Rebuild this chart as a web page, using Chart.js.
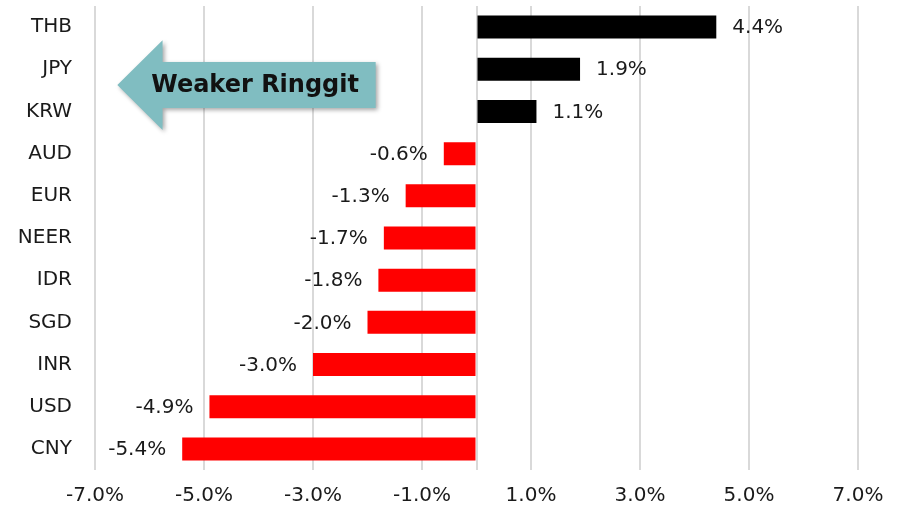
<!DOCTYPE html>
<html>
<head>
<meta charset="utf-8">
<script src="https://cdn.jsdelivr.net/npm/chart.js@4/dist/chart.umd.min.js"></script>
<style>
    html, body { margin: 0; padding: 0; background: #ffffff; }
    #wrap { width: 897px; height: 512px; }
</style>
</head>
<body>
<div id="wrap"><canvas id="fxChart" width="897" height="512"></canvas></div>
<script>
const currencies = ["THB", "JPY", "KRW", "AUD", "EUR", "NEER", "IDR", "SGD", "INR", "USD", "CNY"];
const changes = [4.4, 1.9, 1.1, -0.6, -1.3, -1.7, -1.8, -2.0, -3.0, -4.9, -5.4];
const xTicks = [-7, -5, -3, -1, 0, 1, 3, 5, 7];
const arrowText = "Weaker Ringgit";

const FONT = "'DejaVu Sans', sans-serif";

const barLabels = {
    id: "barLabels",
    afterDatasetsDraw(chart) {
        const ctx = chart.ctx;
        const meta = chart.getDatasetMeta(0);
        ctx.save();
        ctx.font = "20px " + FONT;
        ctx.fillStyle = "#1a1a1a";
        ctx.textBaseline = "middle";
        meta.data.forEach((bar, i) => {
            const v = changes[i];
            const text = v.toFixed(1) + "%";
            if (v >= 0) {
                ctx.textAlign = "left";
                ctx.fillText(text, bar.x + 16, bar.y + 1);
            } else {
                ctx.textAlign = "right";
                ctx.fillText(text, bar.x - 16, bar.y + 1);
            }
        });
        ctx.restore();
    }
};

// teal arrow pointing left, placed in data coordinates
const weakerArrow = {
    id: "weakerArrow",
    afterDraw(chart) {
        const xs = chart.scales.x;
        const ys = chart.scales.y;
        const tip = xs.getPixelForValue(-6.59);
        const neck = xs.getPixelForValue(-5.76);
        const tail = xs.getPixelForValue(-1.85);
        const mid = ys.getPixelForValue(1.37);
        const bodyTop = ys.getPixelForValue(0.83);
        const bodyBot = ys.getPixelForValue(1.92);
        const headTop = ys.getPixelForValue(0.31);
        const headBot = ys.getPixelForValue(2.44);

        const ctx = chart.ctx;
        ctx.save();
        ctx.shadowColor = "rgba(0,0,0,0.35)";
        ctx.shadowBlur = 4;
        ctx.shadowOffsetX = 2;
        ctx.shadowOffsetY = 2;
        ctx.fillStyle = "#80bdc1";
        ctx.beginPath();
        ctx.moveTo(tip, mid);
        ctx.lineTo(neck, headTop);
        ctx.lineTo(neck, bodyTop);
        ctx.lineTo(tail, bodyTop);
        ctx.lineTo(tail, bodyBot);
        ctx.lineTo(neck, bodyBot);
        ctx.lineTo(neck, headBot);
        ctx.closePath();
        ctx.fill();
        ctx.restore();

        ctx.save();
        ctx.font = "bold 24px " + FONT;
        ctx.fillStyle = "#111111";
        ctx.textAlign = "center";
        ctx.textBaseline = "middle";
        ctx.fillText(arrowText, (neck + tail) / 2 - 14, mid + 1);
        ctx.restore();
    }
};

new Chart(document.getElementById("fxChart"), {
    type: "bar",
    data: {
        labels: currencies,
        datasets: [{
            data: changes,
            backgroundColor: changes.map(v => v >= 0 ? "#000000" : "#ff0000"),
            borderWidth: 0,
            categoryPercentage: 1,
            barPercentage: 0.545
        }]
    },
    options: {
        indexAxis: "y",
        responsive: false,
        animation: false,
        devicePixelRatio: 1,
        layout: { padding: { top: 6, right: 39, left: 0, bottom: 0 } },
        plugins: {
            legend: { display: false },
            tooltip: { enabled: false }
        },
        scales: {
            x: {
                min: -7,
                max: 7,
                afterBuildTicks(scale) {
                    scale.ticks = xTicks.map(v => ({ value: v }));
                },
                afterFit(scale) {
                    scale.height = 42;
                    scale.paddingTop = 0;
                    scale.paddingBottom = 0;
                    scale.paddingLeft = 0;
                    scale.paddingRight = 0;
                },
                grid: {
                    color: "#d9d9d9",
                    lineWidth: 2,
                    drawTicks: false
                },
                border: { display: false },
                ticks: {
                    autoSkip: false,
                    maxRotation: 0,
                    padding: 14,
                    color: "#1a1a1a",
                    font: { family: FONT, size: 20 },
                    callback: v => v === 0 ? "" : v.toFixed(1) + "%"
                }
            },
            y: {
                afterFit(scale) {
                    scale.width = 95;
                    scale.paddingTop = 0;
                    scale.paddingBottom = 0;
                },
                grid: { display: false, drawTicks: false },
                border: { display: false },
                ticks: {
                    padding: 23,
                    color: "#1a1a1a",
                    font: { family: FONT, size: 20 }
                }
            }
        }
    },
    plugins: [barLabels, weakerArrow]
});
</script>
</body>
</html>
